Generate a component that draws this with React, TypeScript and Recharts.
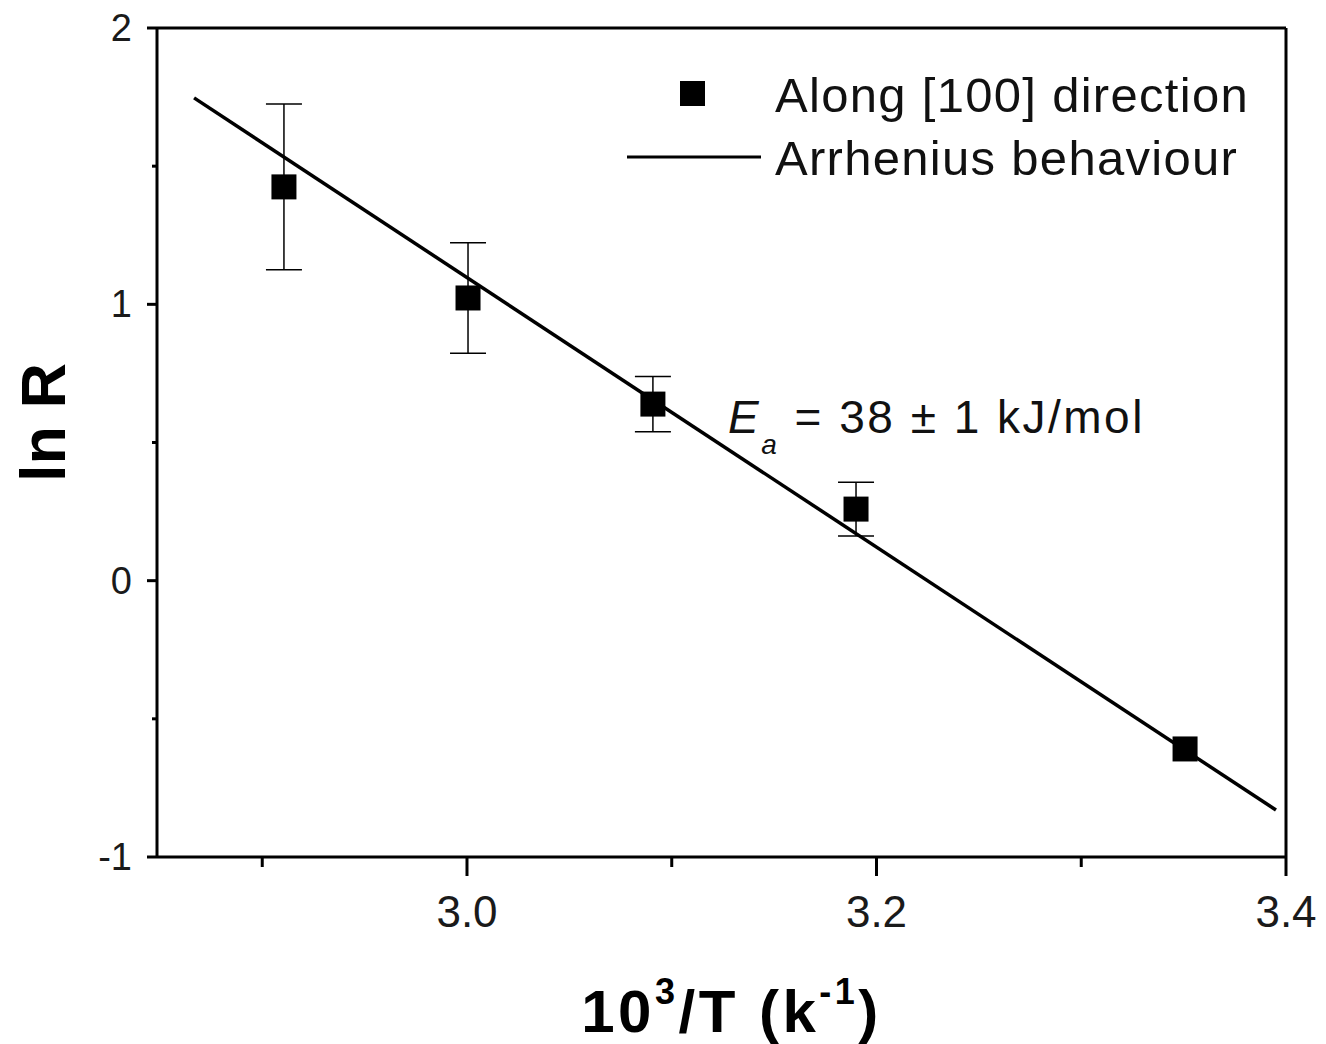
import React from "react";
import {
  ComposedChart,
  Scatter,
  Line,
  XAxis,
  YAxis,
  ErrorBar,
  ReferenceLine,
  Legend,
  Label,
} from "recharts";

// measured points: 10^3/T vs ln R, with error bars
const invT = [2.9106, 3.0005, 3.0908, 3.19, 3.3507];
const lnR = [1.425, 1.023, 0.639, 0.259, -0.609];
const lnRErr = [0.3, 0.2, 0.1, 0.097, 0];

// Arrhenius fit line end points
const fitInvT = [2.8667, 3.3951];
const fitLnR = [1.747, -0.83];

const xTicks = [2.9, 3.0, 3.1, 3.2, 3.3, 3.4];
const xLabelled = [3.0, 3.2, 3.4];
const yTicks = [-1, -0.5, 0, 0.5, 1, 1.5, 2];
const yLabelled = [-1, 0, 1, 2];

const FONT = "Arial, 'Liberation Sans', Helvetica, sans-serif";
const Y_TICK_SIZE = 10;
const Y_TICK_MARGIN = 15;
const X_TICK_SIZE = 19;
const X_TICK_MARGIN = 10;

const points = invT.map((x, i) => ({ x, y: lnR[i], err: lnRErr[i] }));
const fit = fitInvT.map((x, i) => ({ x, y: fitLnR[i] }));

function YTick(props: any) {
  const { x, y, payload } = props;
  const axisX = x + Y_TICK_SIZE + Y_TICK_MARGIN;
  const major = yLabelled.includes(payload.value);
  return (
    <g>
      <line x1={axisX - (major ? 10 : 5)} x2={axisX} y1={y} y2={y} stroke="#000" strokeWidth={3} />
      {major && (
        <text
          x={axisX - 25}
          y={y}
          textAnchor="end"
          dominantBaseline="central"
          fontSize={38}
          fontFamily={FONT}
          fill="#1a1a1a"
        >
          {String(payload.value)}
        </text>
      )}
    </g>
  );
}

function XTick(props: any) {
  const { x, y, payload } = props;
  const axisY = y - X_TICK_SIZE - X_TICK_MARGIN;
  const major = xLabelled.includes(payload.value);
  return (
    <g>
      <line x1={x} x2={x} y1={axisY} y2={axisY + (major ? 19 : 10)} stroke="#000" strokeWidth={3} />
      {major && (
        <text x={x} y={axisY + 70} textAnchor="middle" fontSize={44} fontFamily={FONT} fill="#1a1a1a">
          {payload.value.toFixed(1)}
        </text>
      )}
    </g>
  );
}

function Square(props: any) {
  const { cx, cy } = props;
  if (cx == null || cy == null) return null;
  return <rect x={cx - 12.5} y={cy - 12.5} width={25} height={25} fill="#000" />;
}

function LegendBox() {
  return (
    <svg width={660} height={130} style={{ overflow: "visible" }}>
      <rect x={60} y={21} width={25} height={25} fill="#000" />
      <text x={155} y={52} fontSize={49} letterSpacing={1.3} fontFamily={FONT} fill="#111">
        Along [100] direction
      </text>
      <line x1={7} x2={141} y1={97} y2={97} stroke="#000" strokeWidth={3} />
      <text x={155} y={115} fontSize={49} letterSpacing={1.3} fontFamily={FONT} fill="#111">
        Arrhenius behaviour
      </text>
    </svg>
  );
}

export default function App() {
  return (
    <div style={{ position: "absolute", left: 0, top: 0, width: 1326, height: 1044, background: "#fff" }}>
      <ComposedChart width={1326} height={1044} margin={{ top: 28, right: 40, bottom: 0, left: 0 }}>
        <XAxis
          type="number"
          dataKey="x"
          domain={[2.8486, 3.4]}
          ticks={xTicks}
          allowDataOverflow
          height={187}
          tickSize={X_TICK_SIZE}
          tickMargin={X_TICK_MARGIN}
          tickLine={false}
          axisLine={{ stroke: "#000", strokeWidth: 3 }}
          tick={<XTick />}
          interval={0}
        >
          <Label
            content={({ viewBox }: any) => (
              <text
                x={viewBox.x + viewBox.width / 2 + 10}
                y={viewBox.y + 175}
                textAnchor="middle"
                fontSize={60}
                fontWeight="bold"
                letterSpacing={3.5}
                fontFamily={FONT}
                fill="#000"
              >
                10
                <tspan fontSize={36} dy={-28}>3</tspan>
                <tspan dy={28}>/T (k</tspan>
                <tspan fontSize={36} dy={-28}>-1</tspan>
                <tspan dy={28}>)</tspan>
              </text>
            )}
          />
        </XAxis>
        <YAxis
          type="number"
          dataKey="y"
          domain={[-1, 2]}
          ticks={yTicks}
          allowDataOverflow
          width={157}
          tickSize={Y_TICK_SIZE}
          tickMargin={Y_TICK_MARGIN}
          tickLine={false}
          axisLine={{ stroke: "#000", strokeWidth: 3 }}
          tick={<YTick />}
          interval={0}
        >
          <Label
            content={({ viewBox }: any) => {
              const cx = 65;
              const cy = viewBox.y + viewBox.height / 2 - 20;
              return (
                <text
                  x={cx}
                  y={cy}
                  transform={`rotate(-90 ${cx} ${cy})`}
                  textAnchor="middle"
                  fontSize={63}
                  fontWeight="bold"
                  fontFamily={FONT}
                  fill="#000"
                >
                  ln R
                </text>
              );
            }}
          />
        </YAxis>
        <ReferenceLine y={2} stroke="#000" strokeWidth={3} />
        <ReferenceLine x={3.4} stroke="#000" strokeWidth={3} />
        <Line
          data={fit}
          dataKey="y"
          type="linear"
          stroke="#000"
          strokeWidth={3.5}
          dot={false}
          isAnimationActive={false}
          legendType="none"
        />
        <Scatter data={points} dataKey="y" shape={<Square />} isAnimationActive={false}>
          <ErrorBar dataKey="err" direction="y" width={18} stroke="#000" strokeWidth={1.5} />
        </Scatter>
        <Legend
          layout="vertical"
          verticalAlign="middle"
          align="center"
          wrapperStyle={{ left: 620, top: 60, width: 660, height: 130 }}
          content={() => <LegendBox />}
        />
      </ComposedChart>
      <svg
        width={1326}
        height={1044}
        style={{ position: "absolute", left: 0, top: 0, pointerEvents: "none" }}
      >
        <text x={728} y={433} fontSize={46} letterSpacing={2.5} fontFamily={FONT} fill="#111">
          <tspan fontStyle="italic">E</tspan>
          <tspan fontStyle="italic" fontSize={28} dy={21}>a</tspan>
          <tspan dy={-21}>{"  = 38 \u00b1 1 kJ/mol"}</tspan>
        </text>
      </svg>
    </div>
  );
}
